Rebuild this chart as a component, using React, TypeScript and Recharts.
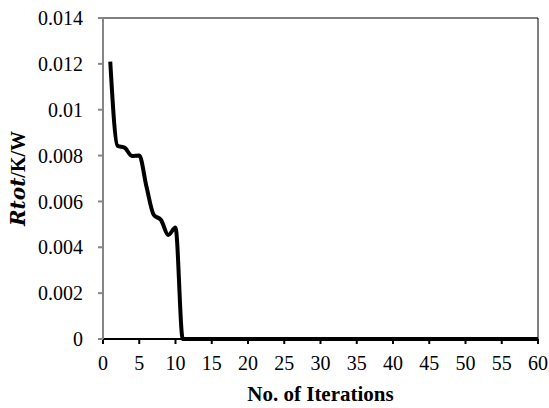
import { Line, LineChart, ReferenceLine, XAxis, YAxis } from "recharts";

const iterations = [
  1, 2, 3, 4, 5, 6, 7, 8, 9, 10, 11, 12, 13, 14, 15, 16, 17, 18, 19, 20,
  21, 22, 23, 24, 25, 26, 27, 28, 29, 30, 31, 32, 33, 34, 35, 36, 37, 38, 39, 40,
  41, 42, 43, 44, 45, 46, 47, 48, 49, 50, 51, 52, 53, 54, 55, 56, 57, 58, 59, 60,
];

const rtot = [
  0.0121, 0.00843, 0.00834, 0.00798, 0.008, 0.00664, 0.00541, 0.00519, 0.00454, 0.00486,
  0, 0, 0, 0, 0, 0, 0, 0, 0, 0,
  0, 0, 0, 0, 0, 0, 0, 0, 0, 0,
  0, 0, 0, 0, 0, 0, 0, 0, 0, 0,
  0, 0, 0, 0, 0, 0, 0, 0, 0, 0,
  0, 0, 0, 0, 0, 0, 0, 0, 0, 0,
];

const xTicks = [0, 5, 10, 15, 20, 25, 30, 35, 40, 45, 50, 55, 60];
const yTicks = [0, 0.002, 0.004, 0.006, 0.008, 0.01, 0.012, 0.014];

const data = iterations.map((it, i) => ({ it, r: rtot[i] }));

const FONT = "'Liberation Serif', 'Times New Roman', serif";
const tickStyle = { fontFamily: FONT, fontSize: 20, fill: "#000" };

export default function App() {
  return (
    <div style={{ position: "absolute", left: 0, top: 0, background: "#fff" }}>
      <LineChart
        width={549}
        height={408}
        data={data}
        margin={{ top: 18, right: 11, bottom: 0, left: 0 }}
      >
        <XAxis
          dataKey="it"
          type="number"
          domain={[0, 60]}
          ticks={xTicks}
          interval={0}
          height={69}
          stroke="#000"
          strokeWidth={2}
          tickSize={5}
          tickMargin={12}
          tick={tickStyle}
          label={(props: any) => {
            const vb = props.viewBox;
            const cx = vb.x + vb.width / 2;
            return (
              <text
                x={cx}
                y={401}
                textAnchor="middle"
                style={{ fontFamily: FONT, fontSize: 21, fontWeight: "bold", fill: "#000" }}
              >
                No. of Iterations
              </text>
            );
          }}
        />
        <YAxis
          type="number"
          domain={[0, 0.014]}
          ticks={yTicks}
          interval={0}
          width={103}
          stroke="#868686"
          strokeWidth={2}
          tickSize={5}
          tickMargin={15}
          tick={tickStyle}
          tickFormatter={(v: number) => String(Number(v.toFixed(3)))}
          label={(props: any) => {
            const vb = props.viewBox;
            const cy = vb.y + vb.height / 2;
            return (
              <text
                x={18}
                y={cy}
                transform={`rotate(-90, 18, ${cy})`}
                textAnchor="middle"
                dominantBaseline="central"
                style={{ fontFamily: FONT, fontSize: 20, fontWeight: "bold", fill: "#000" }}
              >
                <tspan fontStyle="italic" fontFamily="'DejaVu Serif', serif">Rtot</tspan>
                <tspan>/K/W</tspan>
              </text>
            );
          }}
        />
        <ReferenceLine y={0.014} stroke="#000" strokeWidth={1} />
        <ReferenceLine x={60} stroke="#000" strokeWidth={1} />
        <Line
          dataKey="r"
          type="monotone"
          stroke="#000"
          strokeWidth={4}
          dot={false}
          isAnimationActive={false}
        />
      </LineChart>
    </div>
  );
}
